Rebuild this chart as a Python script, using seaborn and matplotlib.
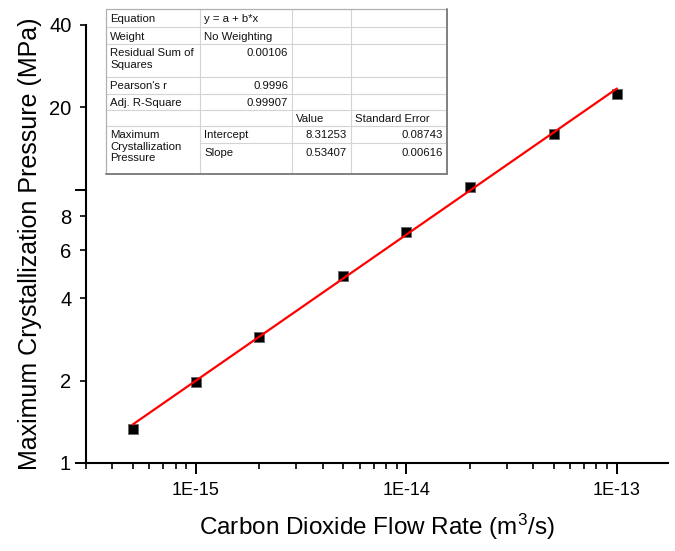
import numpy as np
import pandas as pd
import matplotlib
matplotlib.use("Agg")
import matplotlib.pyplot as plt
from matplotlib.patches import Rectangle
from matplotlib.lines import Line2D
import seaborn as sns

# Measured data
flow_rate = [5e-16, 1e-15, 2e-15, 5e-15, 1e-14, 2e-14, 5e-14, 1e-13]   # m^3/s
pressure = [1.33, 1.98, 2.89, 4.84, 7.0, 10.2, 16.0, 22.4]            # MPa

# Linear fit of log10(P) vs log10(Q)
fit_intercept = 8.31253
fit_slope = 0.53407

# Fit report table
table_rows = [
    ["Equation", "y = a + b*x", "", ""],
    ["Weight", "No Weighting", "", ""],
    ["Residual Sum of\nSquares", "0.00106", "", ""],
    ["Pearson's r", "0.9996", "", ""],
    ["Adj. R-Square", "0.99907", "", ""],
    ["", "", "Value", "Standard Error"],
    ["Maximum\nCrystallization\nPressure", "Intercept", "8.31253", "0.08743"],
    ["", "Slope", "0.53407", "0.00616"],
]

y_major = [1, 10]
y_major_labels = ["1", ""]
y_minor = [2, 4, 6, 8, 20, 40]
y_minor_labels = ["2", "4", "6", "8", "20", "40"]
x_major = [1e-15, 1e-14, 1e-13]
x_major_labels = ["1E-15", "1E-14", "1E-13"]

sns.set_theme(style="ticks")
plt.rcParams["font.family"] = ["Liberation Sans", "DejaVu Sans"]
plt.rcParams["mathtext.fontset"] = "custom"
plt.rcParams["mathtext.rm"] = "Liberation Sans"
plt.rcParams["mathtext.it"] = "Liberation Sans:italic"
plt.rcParams["text.color"] = "black"
plt.rcParams["axes.labelcolor"] = "black"

W, H = 675, 551
fig = plt.figure(figsize=(W / 100, H / 100), dpi=100)
ax = fig.add_axes([86 / W, 1 - 463 / H, (668 - 86) / W, (463 - 25) / H])

df = pd.DataFrame({"Q": flow_rate, "P": pressure})
sns.scatterplot(data=df, x="Q", y="P", ax=ax, marker="s", s=60, color="black",
                edgecolor="#666666", linewidth=0.6, zorder=3, legend=False)

q_fit = np.logspace(np.log10(flow_rate[0]), np.log10(flow_rate[-1]), 50)
p_fit = 10 ** (fit_intercept + fit_slope * np.log10(q_fit))
sns.lineplot(x=q_fit, y=p_fit, ax=ax, color="#ff0000", linewidth=1.6, zorder=4)

ax.set_xscale("log")
ax.set_yscale("log")
ax.set_xlim(3e-16, 1.75e-13)
ax.set_ylim(1, 40)

ax.set_yticks(y_major, labels=y_major_labels)
ax.set_yticks(y_minor, labels=y_minor_labels, minor=True)
ax.set_xticks(x_major, labels=x_major_labels)
ax.xaxis.set_minor_locator(matplotlib.ticker.LogLocator(base=10, subs=np.arange(2, 10)))
ax.xaxis.set_minor_formatter(matplotlib.ticker.NullFormatter())

ax.tick_params(axis="x", which="major", length=8, width=1.4, labelsize=13,
               color="black", labelcolor="black", pad=6)
ax.tick_params(axis="x", which="minor", length=4.5, width=1.2, color="black")
ax.tick_params(axis="y", which="major", length=8, width=1.4, labelsize=14.5,
               color="black", labelcolor="black", pad=3)
ax.tick_params(axis="y", which="minor", length=4.5, width=1.2, labelsize=14.5,
               color="black", labelcolor="black", pad=6)

for side in ["top", "right"]:
    ax.spines[side].set_visible(False)
for side in ["left", "bottom"]:
    ax.spines[side].set_linewidth(1.5)
    ax.spines[side].set_color("black")

ax.set_xlabel(r"Carbon Dioxide Flow Rate (m$^3$/s)", fontsize=17.5, labelpad=9,
              color="black")
ax.set_ylabel("Maximum Crystallization Pressure (MPa)", fontsize=18, labelpad=5,
              color="black")

# Fit report table drawn in figure pixels
def fx(px):
    return px / W

def fy(py):
    return 1 - py / H

col_x = [106, 200, 292, 351, 447]
row_y = [9, 27, 44, 77, 94, 110, 126, 143, 174]

fig.patches.append(Rectangle((fx(col_x[0]), fy(row_y[-1])),
                             fx(col_x[-1]) - fx(col_x[0]), fy(row_y[0]) - fy(row_y[-1]),
                             transform=fig.transFigure, facecolor="white",
                             edgecolor="none", zorder=5))
grid_kw = dict(transform=fig.transFigure, color="#d4d4d4", linewidth=0.8, zorder=6)
for i, yv in enumerate(row_y[1:-1], start=1):
    x0 = col_x[1] if i == 7 else col_x[0]
    fig.add_artist(Line2D([fx(x0), fx(col_x[-1])], [fy(yv), fy(yv)], **grid_kw))
for xv in col_x[1:-1]:
    fig.add_artist(Line2D([fx(xv), fx(xv)], [fy(row_y[0]), fy(row_y[-1])], **grid_kw))
frame_kw = dict(transform=fig.transFigure, zorder=7)
fig.add_artist(Line2D([fx(col_x[0]), fx(col_x[-1])], [fy(row_y[0])] * 2,
                      color="#b0b0b0", linewidth=0.9, **frame_kw))
fig.add_artist(Line2D([fx(col_x[0])] * 2, [fy(row_y[0]), fy(row_y[-1])],
                      color="#b0b0b0", linewidth=0.9, **frame_kw))
fig.add_artist(Line2D([fx(col_x[-1])] * 2, [fy(row_y[0]), fy(row_y[-1])],
                      color="#808080", linewidth=1.4, **frame_kw))
fig.add_artist(Line2D([fx(col_x[0]), fx(col_x[-1])], [fy(row_y[-1])] * 2,
                      color="#808080", linewidth=1.4, **frame_kw))

numeric = lambda s: s[:1].isdigit()
for r, row in enumerate(table_rows):
    top = row_y[r] + 4.5
    for c, txt in enumerate(row):
        if not txt:
            continue
        if numeric(txt):
            x, ha = col_x[c + 1] - 4, "right"
        else:
            x, ha = col_x[c] + 4, "left"
        fig.text(fx(x), fy(top), txt, ha=ha, va="top", fontsize=8.2,
                 color="#111111", linespacing=1.15, zorder=8)

fig.savefig("out.png", dpi=100, facecolor="white")
